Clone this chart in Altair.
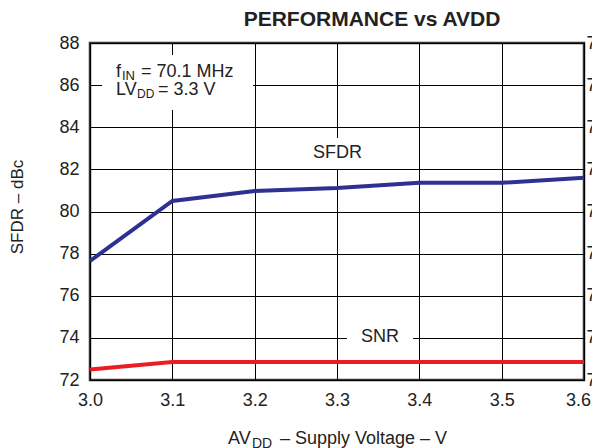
import altair as alt
import pandas as pd

# ---- data ----
voltage = [3.0, 3.1, 3.2, 3.3, 3.4, 3.5, 3.6]
sfdr = [77.65, 80.5, 80.97, 81.12, 81.36, 81.36, 81.6]
snr = [70.25, 70.43, 70.43, 70.43, 70.43, 70.43, 70.43]
x_ticks = [3.0, 3.1, 3.2, 3.3, 3.4, 3.5, 3.6]
sfdr_ticks = [72, 74, 76, 78, 80, 82, 84, 86, 88]
snr_ticks = [70, 71, 72, 73, 74, 75, 76, 77, 78]

df = pd.DataFrame({"AVDD": voltage, "SFDR": sfdr, "SNR": snr})

FONT = "Liberation Sans"
W, H = 494, 337

xenc = alt.X(
    "AVDD:Q",
    scale=alt.Scale(domain=[3.0, 3.6], nice=False, zero=False),
    axis=alt.Axis(values=x_ticks, format=".1f", title=None, grid=True,
                  ticks=False, domain=False, labelPadding=11, labelFlush=False,
                  labelOffset={"expr": "datum.value >= 3.59 ? -6 : 0"}),
)

sfdr_line = alt.Chart(df).mark_line(color="#2e3192", strokeWidth=4).encode(
    x=xenc,
    y=alt.Y("SFDR:Q", scale=alt.Scale(domain=[72, 88], nice=False, zero=False),
            axis=alt.Axis(values=sfdr_ticks, orient="left", title=None, grid=True,
                          ticks=False, domain=False, labelPadding=11,
                          labelFlush=False)),
)

snr_line = alt.Chart(df).mark_line(color="#ed1c24", strokeWidth=4).encode(
    x=xenc,
    y=alt.Y("SNR:Q", scale=alt.Scale(domain=[70, 78], nice=False, zero=False),
            axis=alt.Axis(values=snr_ticks, orient="right", title=None, grid=False,
                          ticks=False, domain=False, labelPadding=2,
                          labelFlush=False)),
)

one = alt.Data(values=[{"k": 1}])


def box(x1, x2, y1, y2):
    return alt.Chart(one).mark_rect(color="white").encode(
        x=alt.value(x1), x2=alt.value(x2), y=alt.value(y1), y2=alt.value(y2))


def txt(s, x, y, size=18, weight="normal", align="left", angle=0):
    return alt.Chart(one).mark_text(
        text=s, font=FONT, fontSize=size, fontWeight=weight, align=align,
        baseline="alphabetic", color="#222", angle=angle,
    ).encode(x=alt.value(x), y=alt.value(y))


layers = [
    box(12, 163, 12, 67),
    box(220, 275, 95, 126),
    box(257, 323, 282, 307),
    txt("f", 26, 34),
    txt("IN", 32, 37, size=13),
    txt("= 70.1 MHz", 51, 34),
    txt("LV", 26, 52),
    txt("DD", 47, 55, size=12),
    txt("= 3.3 V", 68, 52),
    txt("SFDR", 247.5, 115, align="center"),
    txt("SNR", 290, 298.5, align="center"),
    txt("PERFORMANCE vs AVDD", 282, -17, size=21, weight="bold", align="center"),
    txt("AV", 138, 401),
    txt("DD", 162, 405, size=14),
    txt("– Supply Voltage – V", 190, 401),
    txt("SFDR – dBc", -67, 164, size=17, align="center", angle=270),
    sfdr_line,
    snr_line,
]

chart = alt.layer(*layers).resolve_scale(y="independent").properties(
    width=W, height=H,
    autosize=alt.AutoSizeParams(type="none"),
    padding={"left": 82, "top": 35, "right": 8, "bottom": 68},
).configure_view(stroke="#333333", strokeWidth=2.5).configure_axis(
    labelFont=FONT, labelFontSize=18, labelColor="#222222",
    gridColor="#000000", gridWidth=1, gridOpacity=1,
)

chart.save("out.html", embed_options={"renderer": "svg", "actions": False})
